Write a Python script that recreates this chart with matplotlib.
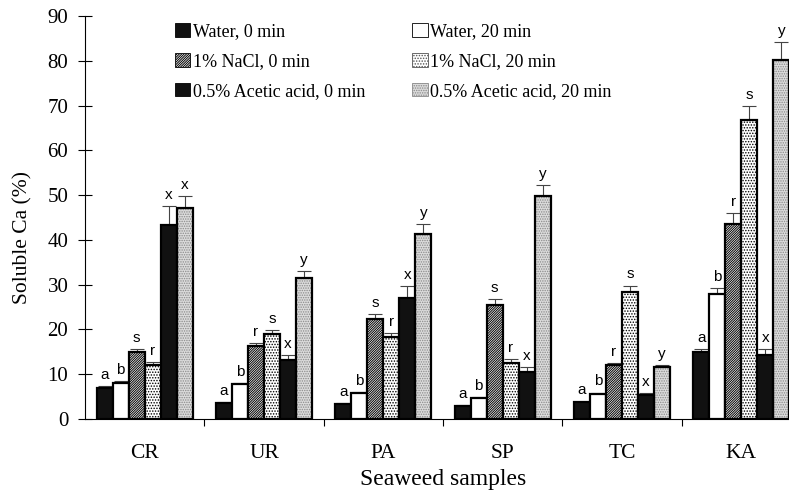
import numpy as np
import matplotlib
matplotlib.use("Agg")
import matplotlib.pyplot as plt
import matplotlib.patches as mpatches

samples = ["CR", "UR", "PA", "SP", "TC", "KA"]

## soluble Ca (%) per treatment
water_0 = [7.0, 3.5, 3.4, 2.9, 3.7, 15.0]
water_20 = [8.1, 7.8, 5.7, 4.6, 5.6, 27.9]
nacl_0 = [14.9, 16.3, 22.4, 25.4, 12.0, 43.5]
nacl_20 = [12.1, 19.0, 18.4, 12.6, 28.4, 66.8]
acetic_0 = [43.4, 13.2, 27.1, 10.5, 5.4, 14.3]
acetic_20 = [47.2, 31.5, 41.3, 49.8, 11.6, 80.2]

water_0_err = [0.3, 0.2, 0.2, 0.2, 0.2, 0.6]
water_20_err = [0.3, 0.3, 0.3, 0.3, 0.3, 1.4]
nacl_0_err = [0.7, 0.6, 1.0, 1.3, 0.5, 2.4]
nacl_20_err = [0.7, 0.9, 0.8, 0.7, 1.4, 3.1]
acetic_0_err = [4.1, 1.0, 2.6, 1.1, 0.3, 1.3]
acetic_20_err = [2.5, 1.5, 2.2, 2.5, 0.4, 3.9]

water_0_let = ["a", "a", "a", "a", "a", "a"]
water_20_let = ["b", "b", "b", "b", "b", "b"]
nacl_0_let = ["s", "r", "s", "s", "r", "r"]
nacl_20_let = ["r", "s", "r", "r", "s", "s"]
acetic_0_let = ["x", "x", "x", "x", "x", "x"]
acetic_20_let = ["x", "y", "y", "y", "y", "y"]

labels = ["Water, 0 min", "Water, 20 min", "1% NaCl, 0 min",
          "1% NaCl, 20 min", "0.5% Acetic acid, 0 min", "0.5% Acetic acid, 20 min"]

plt.rcParams["font.family"] = ["Liberation Serif", "DejaVu Serif"]
plt.rcParams["hatch.linewidth"] = 0.7
letter_font = ["Liberation Sans Narrow", "Liberation Sans", "DejaVu Sans"]

fig = plt.figure(figsize=(7.89, 4.93), dpi=100)
ax = fig.add_axes([85 / 789, 1 - 419 / 493, 716 / 789, 403 / 493])

series = [
    (water_0, water_0_err, water_0_let, dict(facecolor="#111111", hatch=None)),
    (water_20, water_20_err, water_20_let, dict(facecolor="white", hatch=None)),
    (nacl_0, nacl_0_err, nacl_0_let, dict(facecolor="white", hatch="/" * 14)),
    (nacl_20, nacl_20_err, nacl_20_let, dict(facecolor="white", hatch="." * 6)),
    (acetic_0, acetic_0_err, acetic_0_let, dict(facecolor="#111111", hatch=None)),
    (acetic_20, acetic_20_err, acetic_20_let, dict(facecolor="#dcdcdc", hatch="." * 7)),
]

x = np.arange(len(samples)) + 0.5
w = 0.134
for j, (vals, errs, lets, st) in enumerate(series):
    pos = x + (j - 2.5) * w
    if j == 5:
        # grey dots first, black outline on top
        ax.bar(pos, vals, w, color=st["facecolor"], hatch=st["hatch"],
               edgecolor="#8a8a8a", linewidth=0, zorder=2)
        ax.bar(pos, vals, w, fill=False, edgecolor="black", linewidth=1.6, zorder=3)
    else:
        ax.bar(pos, vals, w, color=st["facecolor"], hatch=st["hatch"],
               edgecolor="black", linewidth=1.6, zorder=3)
    ax.errorbar(pos, vals, yerr=[np.zeros(len(vals)), errs], fmt="none",
                ecolor="#444444", elinewidth=0.8, capsize=5, capthick=0.8, zorder=2)
    for p, v, e, t in zip(pos, vals, errs, lets):
        ax.annotate(t, (p, v + e), xytext=(0, 3), textcoords="offset points",
                    ha="center", va="bottom", fontsize=11, family=letter_font)

ax.set_xlim(0, 6)
ax.set_ylim(0, 90)
ax.set_yticks(np.arange(0, 91, 10))
ax.set_xticks(np.arange(1, 6))
ax.set_xticklabels([])
ax.set_xticks(x, minor=True)
ax.set_xticklabels(samples, minor=True, fontsize=15.5)
ax.tick_params(axis="x", which="major", direction="out", length=5, width=0.8)
ax.tick_params(axis="x", which="minor", length=0, pad=18)
ax.tick_params(axis="y", direction="inout", length=10, width=0.8, labelsize=15, pad=7)
for s in ["top", "right"]:
    ax.spines[s].set_visible(False)
for s in ["left", "bottom"]:
    ax.spines[s].set_linewidth(0.8)

fig.text(23 / 789, 1 - 237 / 493, "Soluble Ca (%)", rotation=90,
         ha="center", va="center", fontsize=15.5)
fig.text(443 / 789, 1 - 480 / 493, "Seaweed samples",
         ha="center", va="center", fontsize=17)

handles = [
    mpatches.Patch(facecolor="#111111", edgecolor="black", linewidth=0.6),
    mpatches.Patch(facecolor="white", edgecolor="black", linewidth=0.6),
    mpatches.Patch(facecolor="white", edgecolor="black", hatch="/" * 14, linewidth=0.6),
    mpatches.Patch(facecolor="white", edgecolor="#555555", hatch="." * 6, linewidth=0.6),
    mpatches.Patch(facecolor="#111111", edgecolor="black", linewidth=0.6),
    mpatches.Patch(facecolor="#dcdcdc", edgecolor="#8a8a8a", hatch="." * 7, linewidth=0.6),
]
order = [0, 2, 4, 1, 3, 5]
fig.legend([handles[i] for i in order], [labels[i] for i in order], ncol=2,
           loc="upper left", bbox_to_anchor=(175 / 789, 1 - 23 / 493),
           frameon=False, fontsize=13, handlelength=0.85, handleheight=0.8,
           handletextpad=0.15, columnspacing=2.6, labelspacing=0.7,
           borderpad=0, borderaxespad=0)

fig.savefig("out.png", dpi=100)
